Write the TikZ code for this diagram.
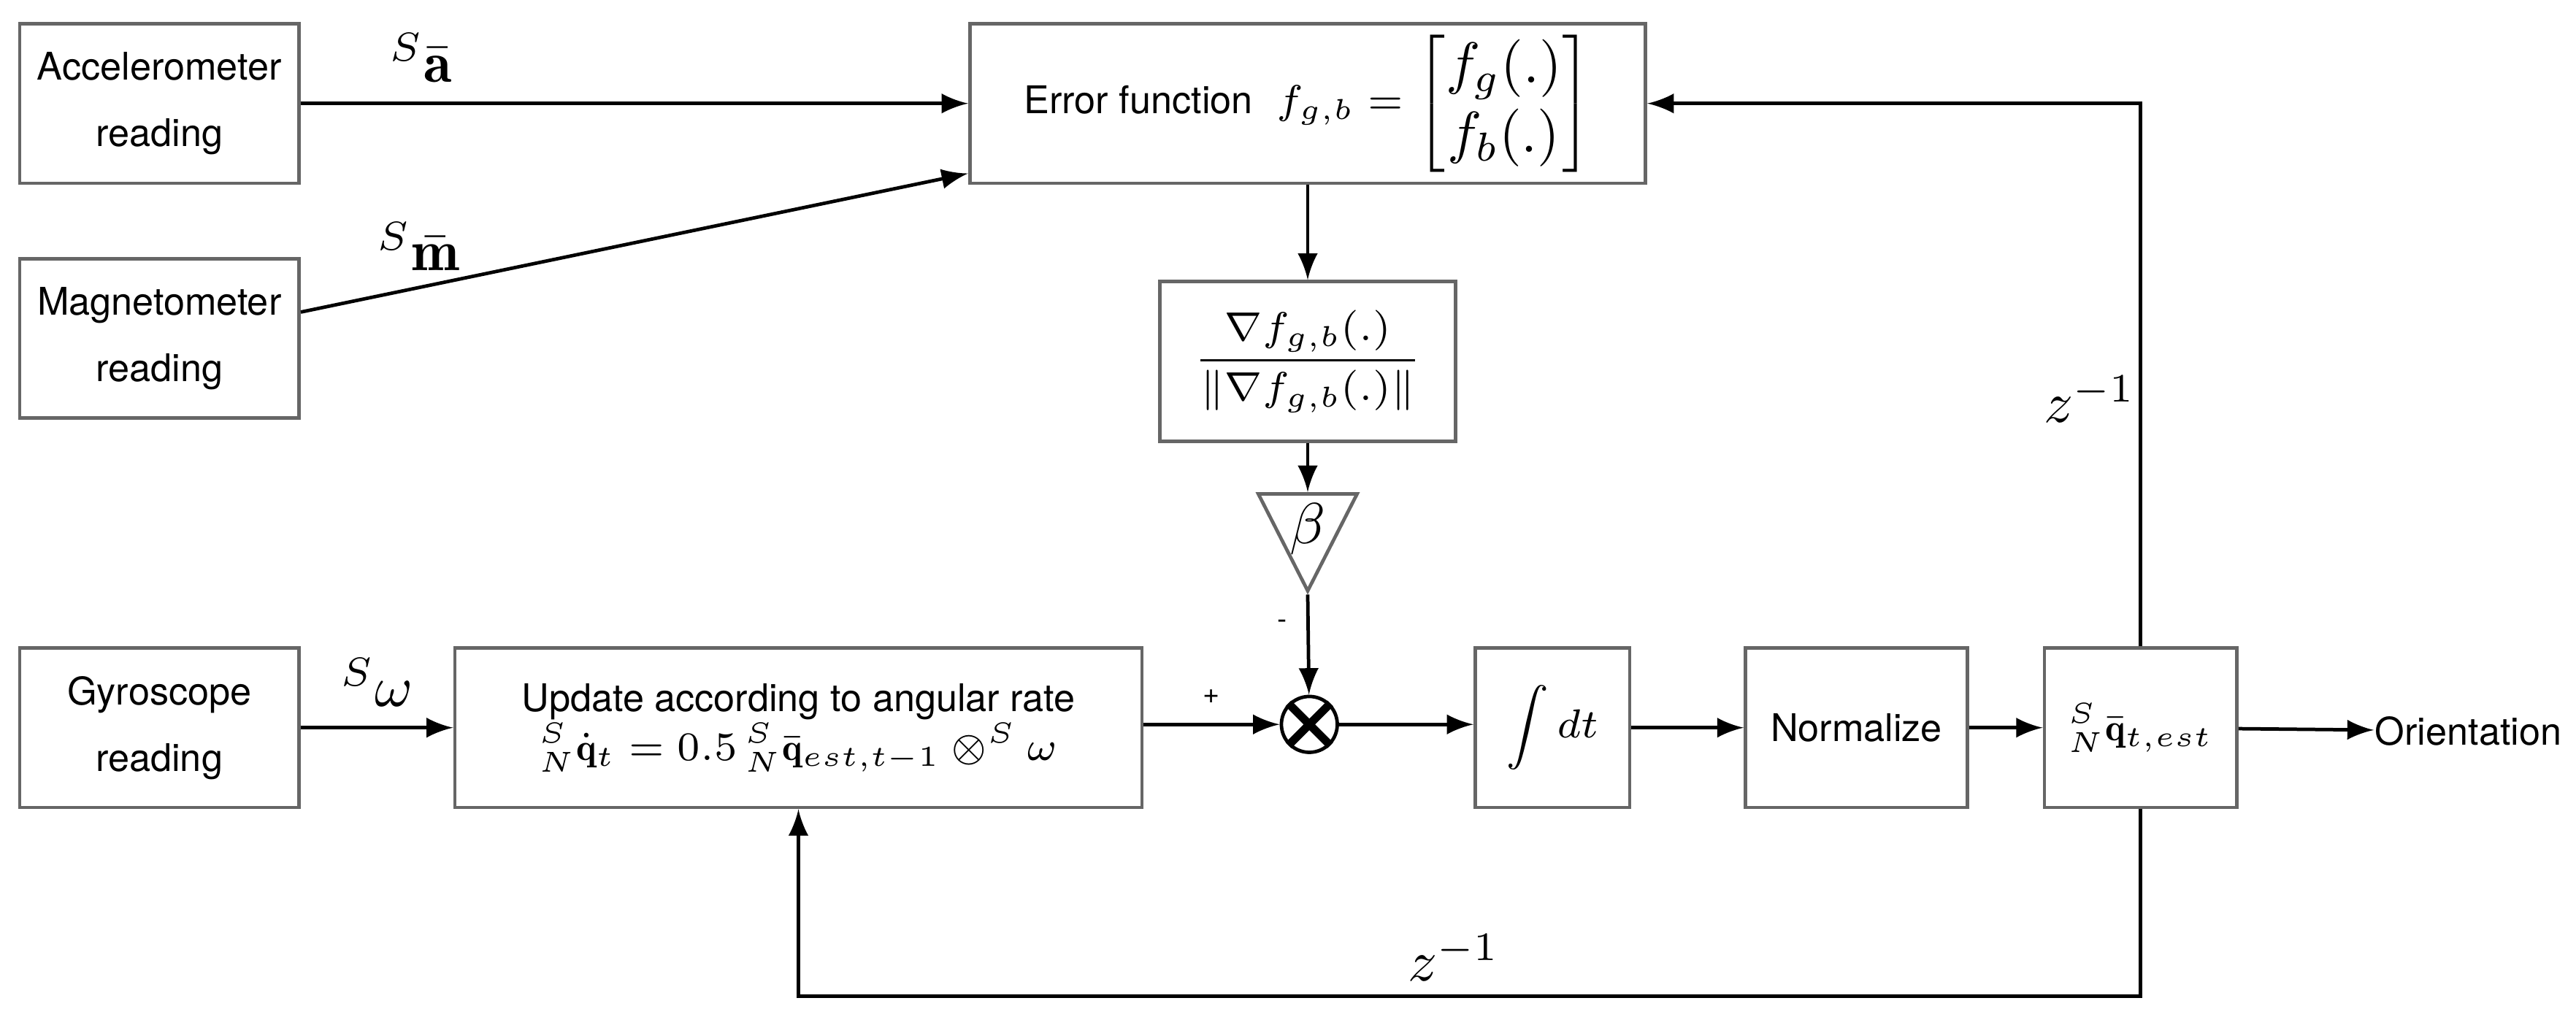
\documentclass[tikz,border=0pt]{standalone}
\usepackage{amsmath}
\usepackage{amssymb}
\usepackage{fontspec}
\setsansfont{TeX Gyre Heros}
\usetikzlibrary{shapes.geometric}
\tikzset{
  blk/.style = {draw = black!60, semithick, inner sep = 0pt, font = \sffamily\fontsize{6.6}{8.5}\selectfont, align = center},
  flow/.style = {-latex, semithick},
  lbl/.style = {font = \fontsize{10}{12}\selectfont}
}
\begin{document}
\begin{tikzpicture}[x=0.01cm, y=-0.01cm]
                \useasboundingbox (0, 0) rectangle (1568, 619);

                \node [blk, minimum width = 1.70cm, minimum height = 0.97cm] (acc) at (97, 63) {Accelerometer\\[3pt]reading};
                \node [blk, minimum width = 1.70cm, minimum height = 0.97cm] (mag) at (97, 206) {Magnetometer\\[3pt]reading};
                \node [blk, minimum width = 1.70cm, minimum height = 0.97cm] (gyr) at (97, 443) {Gyroscope\\[3pt]reading};

                \node [blk, minimum width = 4.11cm, minimum height = 0.97cm] (err) at (796, 63)
                {Error function \(\;\fontsize{10}{12}\selectfont \displaystyle f_{g,b} = \begin{bmatrix} f_g(.) \\ f_b(.) \end{bmatrix}\)};
                \node [blk, minimum width = 1.80cm, minimum height = 0.97cm] (grad) at (796, 220)
                {\(\fontsize{10}{12}\selectfont \dfrac{\nabla f_{g,b}(.)}{\|\nabla f_{g,b}(.)\|}\)};
                \node [draw = black!60, semithick, isosceles triangle, shape border rotate = 270, isosceles triangle apex angle = 54,
                       minimum height = 0.59cm, inner sep = 0pt, anchor = apex] (beta) at (796, 362) {};
                \node [lbl] at (796, 322) {\(\beta\)};

                \node [blk, minimum width = 4.18cm, minimum height = 0.97cm] (upd) at (486, 443)
                {Update according to angular rate\\[0pt]
                 \(\fontsize{10.5}{12}\selectfont {}^S_N\dot{\mathbf{q}}_t = 0.5\,{}^S_N\bar{\mathbf{q}}_{est,t-1} \otimes^S \omega\)};
                \node [draw, semithick, circle, minimum size = 0.34cm, inner sep = 0pt] (mul) at (797, 441) {};
                \draw [line width = 1.4pt] (mul.45) -- (mul.225) (mul.135) -- (mul.315);

                \node [blk, minimum width = 0.94cm, minimum height = 0.97cm] (int) at (945, 443) {\(\fontsize{11}{13}\selectfont \displaystyle\int dt\)};
                \node [blk, minimum width = 1.35cm, minimum height = 0.97cm] (nrm) at (1130, 443) {Normalize};
                \node [blk, minimum width = 1.17cm, minimum height = 0.97cm] (qst) at (1303, 443) {\(\fontsize{11}{13}\selectfont {}^S_N\bar{\mathbf{q}}_{t,est}\)};
                \node [font = \sffamily\fontsize{6.6}{8.5}\selectfont, anchor = west, inner sep = 0pt] (ori) at (1445, 445) {Orientation};

                \draw [flow] (acc.east) -- (err.west |- acc.east) node [lbl, pos = 0.18, above] {\({}^S\bar{\mathbf{a}}\)};
                \draw [flow] ([yshift = 0.16cm]mag.east) -- ([yshift = 0.07cm]err.south west);
                \node [lbl] at (255, 150) {\({}^S\bar{\mathbf{m}}\)};
                \draw [flow] (gyr) -- (upd) node [lbl, midway, above] {\({}^S\omega\)};

                \draw [flow] (err) -- (grad);
                \draw [flow] (grad) -- (beta);
                \draw [flow] (beta.apex) -- (mul) node [pos = 0.3, left, font = \sffamily\tiny] {-};
                \draw [flow] (upd.east |- mul) -- (mul) node [pos = 0.5, above, font = \sffamily\tiny] {+};
                \draw [flow] (mul) -- (int.west |- mul);
                \draw [flow] (int) -- (nrm);
                \draw [flow] (nrm) -- (qst);
                \draw [flow] (qst) -- (ori);

                \draw [flow] (qst.north) |- (err.east);
                \node [lbl] at (1272, 243) {\(z^{-1}\)};
                \draw [flow] (qst.south) -- ++(0, 114) -| (upd.south);
                \node [lbl] at (885, 583) {\(z^{-1}\)};
            \end{tikzpicture}
\end{document}
